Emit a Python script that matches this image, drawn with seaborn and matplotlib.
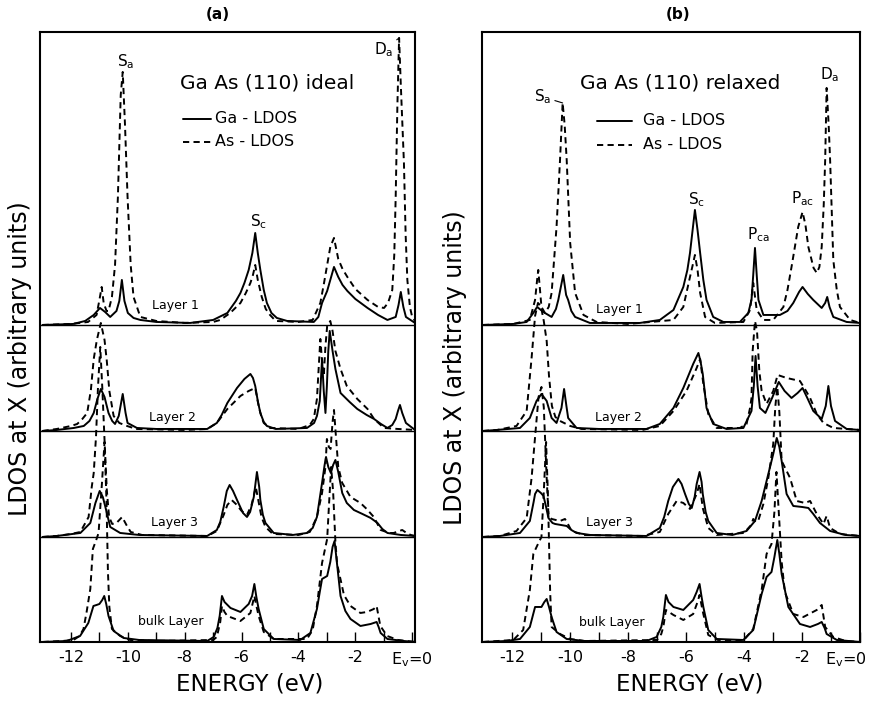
import matplotlib
matplotlib.use("Agg")
import matplotlib.pyplot as plt
import matplotlib.transforms as mtransforms
import pandas as pd
import seaborn as sns

# ---------------- data: (energy [eV], LDOS [arb. units]) ----------------
# panel (a) : GaAs(110) ideal
A_L1_GA = [(-13.0, 0), (-11.92, 1), (-11.5, 4), (-11.2, 10), (-10.98, 17), (-10.8, 13), (-10.62, 8),
           (-10.4, 14), (-10.3, 24), (-10.21, 45), (-10.12, 24), (-10.0, 12), (-9.8, 7), (-9.56, 5),
           (-9.0, 3), (-7.81, 2), (-7.0, 5), (-6.5, 12), (-6.2, 24), (-6.04, 32), (-5.9, 42), (-5.75, 55),
           (-5.62, 72), (-5.52, 92), (-5.43, 72), (-5.34, 55), (-5.22, 35), (-5.11, 22), (-4.95, 12),
           (-4.76, 7), (-4.4, 4), (-3.46, 3), (-3.3, 8), (-3.17, 22), (-3.05, 30), (-2.99, 34),
           (-2.85, 48), (-2.75, 58), (-2.6, 48), (-2.45, 40), (-2.28, 34), (-2.0, 26), (-1.57, 17),
           (-1.2, 10), (-0.87, 5), (-0.58, 8), (-0.48, 20), (-0.40, 33), (-0.31, 18), (-0.22, 8), (0.1, 2)]
A_L1_AS = [(-13.0, 0), (-12.0, 1), (-11.4, 3), (-11.1, 10), (-11.0, 25), (-10.92, 38), (-10.85, 22),
           (-10.75, 14), (-10.68, 14), (-10.56, 28), (-10.45, 60), (-10.35, 128), (-10.25, 230),
           (-10.18, 253), (-10.1, 200), (-10.01, 128), (-9.9, 60), (-9.8, 28), (-9.56, 8), (-9.0, 4),
           (-8.0, 2), (-7.0, 3), (-6.75, 5), (-6.4, 12), (-6.04, 22), (-5.85, 32), (-5.69, 42),
           (-5.6, 50), (-5.52, 60), (-5.43, 45), (-5.29, 28), (-5.15, 16), (-5.0, 10), (-4.8, 4),
           (-4.0, 3), (-3.5, 5), (-3.23, 22), (-3.1, 42), (-2.99, 60), (-2.88, 78), (-2.75, 87),
           (-2.6, 66), (-2.45, 56), (-2.28, 48), (-2.0, 36), (-1.57, 25), (-1.2, 18), (-0.99, 17),
           (-0.85, 22), (-0.70, 35), (-0.63, 70), (-0.58, 128), (-0.52, 220), (-0.46, 287),
           (-0.40, 240), (-0.29, 162), (-0.23, 90), (-0.17, 45), (-0.08, 18), (0.0, 8), (0.1, 4)]
A_L2_GA = [(-13.0, 0), (-12.5, 1), (-11.9, 3), (-11.55, 5), (-11.35, 10), (-11.2, 18), (-11.07, 32),
           (-10.95, 42), (-10.82, 34), (-10.68, 18), (-10.55, 10), (-10.45, 7), (-10.32, 15),
           (-10.18, 37), (-10.08, 18), (-10.01, 8), (-9.68, 3), (-9.0, 2), (-7.21, 2), (-6.87, 8),
           (-6.7, 16), (-6.5, 28), (-6.16, 43), (-5.9, 52), (-5.69, 57), (-5.6, 53), (-5.52, 45),
           (-5.43, 30), (-5.34, 18), (-5.22, 9), (-5.11, 5), (-4.8, 2), (-3.7, 3), (-3.45, 8),
           (-3.35, 15), (-3.25, 30), (-3.17, 72), (-3.11, 40), (-3.05, 18), (-3.0, 45), (-2.95, 80),
           (-2.9, 100), (-2.8, 80), (-2.7, 62), (-2.52, 38), (-2.2, 29), (-1.93, 22), (-1.6, 16),
           (-1.34, 12), (-1.1, 7), (-0.87, 3), (-0.7, 6), (-0.58, 12), (-0.5, 20), (-0.43, 26),
           (-0.35, 18), (-0.22, 8), (0.1, 1)]
A_L2_AS = [(-13.0, 0), (-12.5, 2), (-12.0, 5), (-11.78, 7), (-11.6, 12), (-11.43, 18), (-11.3, 41),
           (-11.2, 72), (-11.09, 91), (-10.95, 108), (-10.82, 91), (-10.74, 70), (-10.65, 40),
           (-10.5, 15), (-10.3, 8), (-10.03, 5), (-9.7, 2), (-8.0, 1), (-7.2, 2), (-6.87, 8),
           (-6.5, 22), (-6.04, 35), (-5.75, 40), (-5.52, 43), (-5.4, 25), (-5.3, 14), (-5.22, 8),
           (-5.0, 3), (-4.0, 2), (-3.6, 6), (-3.46, 12), (-3.35, 32), (-3.23, 92), (-3.17, 70),
           (-3.11, 55), (-3.05, 85), (-2.99, 105), (-2.88, 110), (-2.8, 100), (-2.7, 80),
           (-2.52, 62), (-2.3, 45), (-1.93, 32), (-1.57, 22), (-1.34, 12), (-0.99, 3), (-0.5, 2), (0.1, 1)]
A_L3_GA = [(-13.0, 0), (-12.5, 1), (-11.67, 4), (-11.32, 14), (-11.14, 34), (-10.99, 46), (-10.88, 40),
           (-10.79, 30), (-10.62, 10), (-10.27, 4), (-9.6, 2), (-7.21, 1), (-6.87, 7), (-6.75, 15),
           (-6.63, 30), (-6.52, 46), (-6.42, 52), (-6.3, 46), (-6.16, 37), (-5.95, 24), (-5.81, 20),
           (-5.7, 25), (-5.57, 40), (-5.46, 65), (-5.38, 50), (-5.34, 37), (-5.25, 22), (-5.16, 14),
           (-4.87, 4), (-4.2, 2), (-3.7, 4), (-3.5, 9), (-3.35, 20), (-3.17, 54), (-3.08, 72),
           (-3.03, 80), (-2.95, 70), (-2.86, 64), (-2.78, 72), (-2.7, 77), (-2.6, 65), (-2.46, 44),
           (-2.3, 34), (-2.05, 27), (-1.75, 23), (-1.46, 19), (-1.22, 14), (-1.05, 8), (-0.87, 4),
           (-0.4, 2), (0.1, 1)]
A_L3_AS = [(-13.0, 0), (-12.5, 1), (-12.0, 3), (-11.67, 5), (-11.38, 20), (-11.27, 50), (-11.2, 64),
           (-11.12, 100), (-11.05, 150), (-10.97, 190), (-10.9, 150), (-10.82, 97), (-10.74, 47),
           (-10.66, 20), (-10.55, 13), (-10.4, 14), (-10.2, 20), (-10.05, 12), (-9.9, 5), (-9.5, 2),
           (-7.2, 1), (-6.87, 6), (-6.63, 22), (-6.5, 32), (-6.35, 37), (-6.2, 33), (-6.0, 26),
           (-5.81, 22), (-5.65, 32), (-5.5, 50), (-5.4, 35), (-5.3, 20), (-5.16, 10), (-4.9, 3),
           (-4.0, 2), (-3.6, 5), (-3.35, 20), (-3.17, 44), (-3.05, 70), (-3.0, 98), (-2.93, 90),
           (-2.87, 88), (-2.8, 115), (-2.75, 127), (-2.68, 100), (-2.6, 70), (-2.46, 54), (-2.17, 40),
           (-1.82, 34), (-1.6, 28), (-1.35, 20), (-1.11, 7), (-0.8, 4), (-0.65, 4), (-0.45, 6),
           (-0.35, 7), (-0.2, 4), (-0.05, 2), (0.1, 1)]
A_BK_GA = [(-13.0, 0), (-12.15, 1), (-11.68, 6), (-11.39, 19), (-11.21, 36), (-11.1, 37), (-11.0, 38),
           (-10.9, 42), (-10.83, 46), (-10.76, 38), (-10.68, 26), (-10.5, 11), (-10.15, 4), (-9.6, 2),
           (-7.21, 1), (-6.98, 5), (-6.85, 14), (-6.77, 26), (-6.69, 46), (-6.6, 40), (-6.39, 34),
           (-6.04, 30), (-5.75, 38), (-5.63, 46), (-5.55, 58), (-5.48, 45), (-5.4, 33), (-5.22, 13),
           (-4.87, 3), (-3.94, 2), (-3.58, 9), (-3.35, 33), (-3.25, 50), (-3.17, 63), (-2.99, 66),
           (-2.88, 80), (-2.8, 95), (-2.73, 101), (-2.65, 80), (-2.52, 46), (-2.35, 31), (-2.17, 23),
           (-1.82, 16), (-1.46, 18), (-1.25, 20), (-1.18, 15), (-1.11, 9), (-0.87, 3), (-0.3, 1), (0.1, 0)]
A_BK_AS = [(-13.0, 0), (-12.3, 1), (-11.91, 2), (-11.7, 6), (-11.56, 13), (-11.45, 30), (-11.32, 53),
           (-11.23, 93), (-11.1, 103), (-11.03, 109), (-10.91, 159), (-10.82, 200), (-10.75, 140),
           (-10.7, 70), (-10.65, 35), (-10.56, 13), (-10.27, 6), (-9.92, 2), (-9.0, 1), (-7.0, 2),
           (-6.87, 5), (-6.75, 20), (-6.69, 36), (-6.6, 30), (-6.5, 26), (-6.04, 21), (-5.69, 29),
           (-5.55, 46), (-5.47, 35), (-5.4, 26), (-5.22, 10), (-4.87, 3), (-3.7, 3), (-3.5, 12),
           (-3.35, 36), (-3.17, 79), (-2.99, 103), (-2.92, 140), (-2.85, 175), (-2.78, 150),
           (-2.7, 100), (-2.64, 78), (-2.5, 60), (-2.4, 47), (-2.17, 36), (-1.82, 29), (-1.59, 30),
           (-1.35, 33), (-1.25, 36), (-1.18, 25), (-1.12, 16), (-0.88, 6), (-0.5, 2), (0.1, 0)]

# panel (b) : GaAs(110) relaxed
B_L1_GA = [(-13.0, 0), (-11.95, 1), (-11.49, 3), (-11.26, 12), (-11.13, 18), (-11.0, 15), (-10.86, 12),
           (-10.63, 8), (-10.48, 16), (-10.4, 25), (-10.23, 50), (-10.13, 30), (-10.06, 25),
           (-9.95, 14), (-9.82, 8), (-9.31, 2), (-7.59, 2), (-6.9, 5), (-6.43, 15), (-6.09, 38),
           (-5.95, 55), (-5.86, 72), (-5.69, 115), (-5.6, 95), (-5.51, 72), (-5.4, 45), (-5.29, 25),
           (-5.06, 8), (-4.71, 3), (-4.14, 3), (-3.85, 12), (-3.74, 25), (-3.68, 50), (-3.62, 77),
           (-3.56, 50), (-3.5, 25), (-3.33, 10), (-2.76, 10), (-2.5, 14), (-2.3, 22), (-2.1, 33),
           (-1.98, 38), (-1.8, 31), (-1.61, 25), (-1.32, 17), (-1.2, 22), (-1.13, 28), (-1.05, 18),
           (-0.92, 8), (-0.46, 3), (0.0, 2)]
B_L1_AS = [(-13.0, 0), (-11.95, 1), (-11.38, 5), (-11.2, 25), (-11.13, 45), (-11.09, 55), (-11.03, 35),
           (-10.98, 18), (-10.86, 12), (-10.73, 18), (-10.63, 32), (-10.46, 98), (-10.34, 165),
           (-10.25, 222), (-10.18, 200), (-10.11, 165), (-9.99, 82), (-9.82, 32), (-9.53, 10),
           (-9.08, 3), (-8.0, 1), (-6.43, 5), (-6.09, 18), (-5.86, 48), (-5.75, 62), (-5.69, 70),
           (-5.6, 55), (-5.51, 32), (-5.34, 8), (-5.0, 2), (-4.02, 3), (-3.79, 15), (-3.68, 42),
           (-3.56, 15), (-3.33, 5), (-2.99, 5), (-2.64, 18), (-2.5, 35), (-2.36, 58), (-2.13, 98),
           (-1.98, 113), (-1.88, 100), (-1.78, 78), (-1.6, 57), (-1.49, 52), (-1.4, 58), (-1.32, 78),
           (-1.25, 120), (-1.2, 165), (-1.15, 237), (-1.08, 200), (-1.03, 165), (-0.92, 65),
           (-0.8, 35), (-0.69, 18), (-0.34, 5), (0.0, 2)]
B_L2_GA = [(-13.0, 0), (-12.53, 1), (-11.72, 3), (-11.38, 13), (-11.15, 30), (-10.98, 37), (-10.8, 30),
           (-10.63, 13), (-10.46, 8), (-10.29, 23), (-10.2, 42), (-10.12, 25), (-10.06, 13), (-9.77, 3),
           (-9.0, 2), (-7.36, 2), (-6.9, 7), (-6.43, 23), (-6.09, 43), (-5.75, 67), (-5.57, 78),
           (-5.5, 70), (-5.42, 57), (-5.29, 23), (-5.06, 7), (-4.6, 2), (-4.02, 3), (-3.74, 20),
           (-3.66, 45), (-3.6, 75), (-3.53, 45), (-3.45, 23), (-3.26, 18), (-3.03, 33), (-2.8, 49),
           (-2.6, 40), (-2.36, 33), (-2.15, 38), (-1.98, 43), (-1.8, 32), (-1.61, 20), (-1.32, 12),
           (-1.18, 25), (-1.09, 45), (-1.0, 25), (-0.86, 10), (-0.46, 2), (0.0, 1)]
B_L2_AS = [(-13.0, 0), (-12.5, 1), (-11.84, 5), (-11.49, 20), (-11.32, 73), (-11.2, 115), (-11.1, 128),
           (-11.0, 125), (-10.9, 110), (-10.8, 90), (-10.72, 55), (-10.62, 25), (-10.5, 14),
           (-10.34, 10), (-9.99, 5), (-9.6, 2), (-7.5, 1), (-6.9, 5), (-6.43, 20), (-5.98, 40),
           (-5.63, 63), (-5.51, 72), (-5.4, 47), (-5.23, 17), (-4.94, 3), (-4.14, 3), (-3.91, 7),
           (-3.79, 23), (-3.74, 33), (-3.7, 80), (-3.62, 110), (-3.55, 100), (-3.47, 60), (-3.39, 40),
           (-3.22, 27), (-2.99, 40), (-2.84, 56), (-2.53, 53), (-2.07, 50), (-1.9, 42), (-1.72, 33),
           (-1.49, 17), (-1.26, 8), (-0.92, 3), (0.0, 1)]
B_L3_GA = [(-13.0, 0), (-12.41, 1), (-11.72, 4), (-11.38, 16), (-11.25, 35), (-11.2, 43), (-11.12, 47),
           (-11.0, 44), (-10.91, 41), (-10.82, 30), (-10.74, 19), (-10.6, 14), (-10.51, 13),
           (-10.11, 11), (-9.95, 7), (-9.77, 4), (-9.3, 2), (-7.36, 1), (-6.9, 9), (-6.75, 20),
           (-6.61, 36), (-6.45, 50), (-6.26, 58), (-6.15, 53), (-6.03, 43), (-5.9, 33), (-5.8, 29),
           (-5.7, 40), (-5.63, 53), (-5.53, 65), (-5.46, 55), (-5.42, 43), (-5.32, 25), (-5.23, 16),
           (-4.94, 4), (-4.4, 2), (-3.91, 6), (-3.62, 16), (-3.39, 36), (-3.16, 63), (-2.99, 83),
           (-2.87, 99), (-2.78, 90), (-2.7, 76), (-2.53, 43), (-2.3, 31), (-2.0, 30), (-1.78, 29),
           (-1.61, 23), (-1.38, 14), (-1.03, 6), (-0.5, 2), (0.0, 1)]
B_L3_AS = [(-13.0, 0), (-12.41, 1), (-11.84, 6), (-11.49, 19), (-11.32, 59), (-11.2, 100), (-11.08, 140),
           (-10.98, 150), (-10.9, 130), (-10.8, 59), (-10.74, 23), (-10.63, 18), (-10.34, 16),
           (-10.17, 18), (-10.05, 12), (-9.94, 6), (-9.5, 2), (-7.5, 1), (-6.9, 5), (-6.61, 23),
           (-6.32, 36), (-6.09, 34), (-5.86, 28), (-5.63, 43), (-5.53, 53), (-5.42, 29), (-5.23, 9),
           (-4.94, 2), (-4.0, 4), (-3.75, 12), (-3.68, 18), (-3.6, 15), (-3.51, 16), (-3.33, 33),
           (-3.16, 59), (-2.99, 93), (-2.92, 130), (-2.85, 150), (-2.78, 125), (-2.7, 76),
           (-2.41, 59), (-2.18, 36), (-1.9, 34), (-1.72, 36), (-1.49, 23), (-1.26, 13), (-1.15, 21),
           (-1.03, 9), (-0.69, 3), (0.0, 1)]
B_BK_GA = [(-13.0, 0), (-12.18, 1), (-11.72, 3), (-11.38, 15), (-11.2, 35), (-11.1, 35), (-10.98, 35),
           (-10.88, 40), (-10.8, 43), (-10.72, 35), (-10.63, 25), (-10.46, 10), (-10.11, 3), (-9.5, 1),
           (-7.36, 1), (-7.01, 5), (-6.85, 15), (-6.78, 25), (-6.69, 47), (-6.6, 40), (-6.43, 35),
           (-6.09, 32), (-5.75, 42), (-5.63, 50), (-5.53, 58), (-5.46, 45), (-5.4, 35), (-5.23, 12),
           (-4.94, 3), (-4.02, 2), (-3.68, 12), (-3.39, 48), (-3.22, 65), (-3.05, 70), (-2.95, 85),
           (-2.85, 102), (-2.78, 88), (-2.7, 68), (-2.47, 35), (-2.07, 18), (-1.72, 15), (-1.45, 18),
           (-1.32, 20), (-1.22, 14), (-1.15, 8), (-0.8, 2), (0.0, 0)]
B_BK_AS = [(-13.0, 0), (-11.95, 2), (-11.61, 12), (-11.38, 52), (-11.26, 88), (-11.1, 98), (-10.98, 105),
           (-10.9, 150), (-10.82, 200), (-10.76, 150), (-10.72, 100), (-10.68, 50), (-10.63, 15),
           (-10.34, 8), (-9.99, 3), (-9.5, 1), (-7.0, 2), (-6.85, 8), (-6.78, 15), (-6.69, 32),
           (-6.43, 27), (-6.09, 22), (-5.75, 28), (-5.6, 40), (-5.53, 47), (-5.45, 35), (-5.4, 28),
           (-5.23, 7), (-4.9, 2), (-4.0, 2), (-3.68, 13), (-3.39, 52), (-3.22, 88), (-3.05, 98),
           (-2.95, 130), (-2.88, 170), (-2.8, 130), (-2.7, 80), (-2.59, 50), (-2.3, 28), (-1.95, 25),
           (-1.49, 32), (-1.32, 37), (-1.2, 15), (-0.92, 5), (-0.5, 1), (0.0, 0)]

LAYERS = ["Layer 1", "Layer 2", "Layer 3", "bulk Layer"]
SPECIES = ["Ga - LDOS", "As - LDOS"]
TICK_VALUES = [-12, -10, -8, -6, -4, -2, 0]
TICK_LABELS = ["-12", "-10", "-8", "-6", "-4", "-2", "E$_\\mathrm{v}$=0"]

PANEL_A = {("Layer 1", "Ga"): A_L1_GA, ("Layer 1", "As"): A_L1_AS,
           ("Layer 2", "Ga"): A_L2_GA, ("Layer 2", "As"): A_L2_AS,
           ("Layer 3", "Ga"): A_L3_GA, ("Layer 3", "As"): A_L3_AS,
           ("bulk Layer", "Ga"): A_BK_GA, ("bulk Layer", "As"): A_BK_AS}
PANEL_B = {("Layer 1", "Ga"): B_L1_GA, ("Layer 1", "As"): B_L1_AS,
           ("Layer 2", "Ga"): B_L2_GA, ("Layer 2", "As"): B_L2_AS,
           ("Layer 3", "Ga"): B_L3_GA, ("Layer 3", "As"): B_L3_AS,
           ("bulk Layer", "Ga"): B_BK_GA, ("bulk Layer", "As"): B_BK_AS}

# ---------------- layout / style ----------------
OFFSET = {"Layer 1": 317, "Layer 2": 211, "Layer 3": 105, "bulk Layer": 0}
YMAX = 610
DASH = (0, (3.2, 2.2))
LW = 1.4

sns.set_theme(style="white")
plt.rcParams["font.family"] = ["DejaVu Sans"]
plt.rcParams["mathtext.fontset"] = "dejavusans"
plt.rcParams["text.color"] = "black"
plt.rcParams["axes.labelcolor"] = "black"
plt.rcParams["xtick.color"] = "black"
plt.rcParams["ytick.color"] = "black"

fig = plt.figure(figsize=(8.73, 7.02), dpi=100)
axA = fig.add_axes([0.0458, 0.0855, 0.4296, 0.869])
axB = fig.add_axes([0.5521, 0.0855, 0.4330, 0.869])


def draw_panel(ax, curves, xlim):
    for layer in LAYERS[:-1]:
        ax.axhline(OFFSET[layer], color="black", lw=1.0, zorder=1)
    for (layer, sp), pts in curves.items():
        df = pd.DataFrame(pts, columns=["energy", "ldos"])
        df["y"] = df["ldos"] + OFFSET[layer]
        sns.lineplot(data=df, x="energy", y="y", ax=ax, color="black", lw=LW,
                     estimator=None, sort=False,
                     linestyle="-" if sp == "Ga" else DASH, zorder=3)
    ax.set_xlim(*xlim)
    ax.set_ylim(0, YMAX)
    ax.set_yticks([])
    ax.set_xticks(TICK_VALUES)
    ax.set_xticklabels(TICK_LABELS, fontsize=11.5, color="black")
    ax.set_xticks([-11, -9, -7, -5, -3, -1], minor=True)
    ax.tick_params(axis="x", which="both", direction="in", length=7, width=1.0,
                   bottom=True, top=False, pad=6, colors="black")
    for s in ax.spines.values():
        s.set_visible(True)
        s.set_linewidth(1.5)
        s.set_color("black")
    ax.set_xlabel("ENERGY (eV)", fontsize=16.5, color="black")
    ax.set_ylabel("LDOS at X (arbitrary units)", fontsize=17, color="black")


def peak_of(pts):
    return max(pts, key=lambda p: p[1])


draw_panel(axA, PANEL_A, (-13.09, 0.1))
draw_panel(axB, PANEL_B, (-13.03, 0.0))

axA.xaxis.set_label_coords(0.56, -0.050)
axB.xaxis.set_label_coords(0.55, -0.050)
axA.yaxis.set_label_coords(-0.022, 0.465)
axB.yaxis.set_label_coords(-0.040, 0.45)

# shift the "Ev=0" label of panel (b) leftwards so it stays inside the figure
lab = axB.get_xticklabels()[-1]
lab.set_transform(lab.get_transform() +
                  mtransforms.ScaledTranslation(-14 / 100, 0, fig.dpi_scale_trans))

axA.text(0.475, 1.028, "(a)", transform=axA.transAxes, ha="center", va="center",
         fontsize=11, fontweight="bold")
axB.text(0.52, 1.028, "(b)", transform=axB.transAxes, ha="center", va="center",
         fontsize=11, fontweight="bold")

# titles and legends
axA.text(-8.16, 559, "Ga As (110) ideal", ha="left", va="center", fontsize=14.5)
axB.text(-9.66, 559, "Ga As (110) relaxed", ha="left", va="center", fontsize=14.5)

for ax, x0, x1, xt, ys in [(axA, -8.05, -7.09, -6.93, (523, 500)),
                           (axB, -9.07, -7.86, -7.48, (521, 497))]:
    ax.plot([x0, x1], [ys[0], ys[0]], color="black", lw=LW)
    ax.plot([x0, x1], [ys[1], ys[1]], color="black", lw=LW, linestyle=DASH)
    ax.text(xt, ys[0], SPECIES[0], ha="left", va="center", fontsize=11.5)
    ax.text(xt, ys[1], SPECIES[1], ha="left", va="center", fontsize=11.5)

# layer labels
for ax, pos in [(axA, [(-8.33, 336), (-8.44, 224), (-8.36, 119), (-8.5, 20)]),
                (axB, [(-8.28, 332), (-8.31, 224), (-8.62, 119), (-8.55, 19)])]:
    for name, (x, y) in zip(LAYERS, pos):
        ax.text(x, y, name, ha="center", va="center", fontsize=9)

# peak labels
PK = 11
axA.text(-10.09, 580, "S$_\\mathrm{a}$", ha="center", va="center", fontsize=PK)
axA.text(-5.41, 420, "S$_\\mathrm{c}$", ha="center", va="center", fontsize=PK)
pk = peak_of(A_L1_AS[40:])
axA.annotate("D$_\\mathrm{a}$", xy=(pk[0], pk[1] + OFFSET["Layer 1"]), xytext=(-1.0, 592),
             ha="center", va="center", fontsize=PK,
             arrowprops=dict(arrowstyle="-", color="black", lw=0.8, shrinkA=6, shrinkB=0))

pk = peak_of(B_L1_AS[:20])
axB.annotate("S$_\\mathrm{a}$", xy=(pk[0], pk[1] + OFFSET["Layer 1"]), xytext=(-10.93, 545),
             ha="center", va="center", fontsize=PK,
             arrowprops=dict(arrowstyle="-", color="black", lw=0.8, shrinkA=6, shrinkB=0))
axB.text(-5.62, 442, "S$_\\mathrm{c}$", ha="center", va="center", fontsize=PK)
axB.text(-3.52, 407, "P$_\\mathrm{ca}$", ha="center", va="center", fontsize=PK)
axB.text(-1.97, 443, "P$_\\mathrm{ac}$", ha="center", va="center", fontsize=PK)
axB.text(-1.03, 567, "D$_\\mathrm{a}$", ha="center", va="center", fontsize=PK)

fig.savefig("out.png", dpi=100, facecolor="white")
